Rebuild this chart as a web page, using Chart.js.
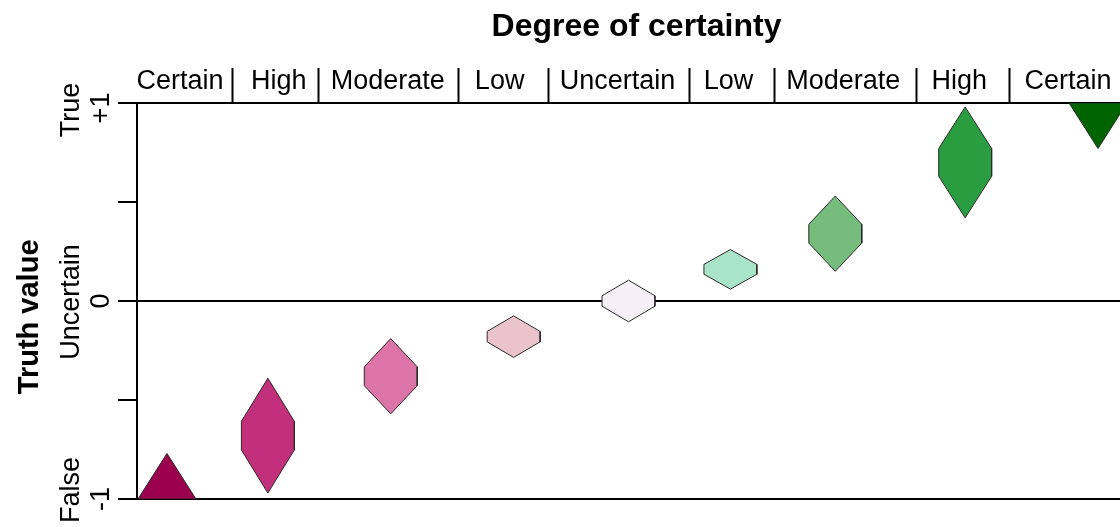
<!DOCTYPE html>
<html>
<head>
<meta charset="utf-8">
<script src="https://cdn.jsdelivr.net/npm/chart.js@4/dist/chart.umd.min.js"></script>
<style>
html,body{margin:0;padding:0;background:#fff;overflow:hidden;width:1120px;height:527px;}
canvas{display:block;}
</style>
</head>
<body>
<canvas id="c" width="1136" height="527"></canvas>
<script>
// ---- data ----
const categories = ['Certain','High','Moderate','Low','Uncertain','Low','Moderate','High','Certain'];
const categoryCentres = [0.43,1.42,2.51,3.63,4.81,5.92,7.07,8.23,9.32];
const categoryBreaks = [0.96,1.82,3.22,4.12,5.53,6.38,7.80,8.73];
const markDegree = [0.30,1.31,2.54,3.77,4.92,5.94,6.99,8.29,9.62];
const truthValue = [-1,-0.68,-0.38,-0.18,0,0.16,0.34,0.70,1];
const truthSpread = [0.23,0.29,0.19,0.105,0.105,0.10,0.19,0.28,0.23];
const markShape = ['triangle','hexagon','hexagon','hexagon','hexagon','hexagon','hexagon','hexagon','triangle'];
const markColours = ['#9A004E','#C2307B','#DC74A8','#EBC4CB','#F5F0F5','#A9E4C8','#76BD7D','#2A9D40','#006400'];
const yTickValues = [-1,-0.5,0,0.5,1];
const yTickWords = {'1':'True','0':'Uncertain','-1':'False'};
const yTickNumbers = {'1':'+1','0':'0','-1':'-1'};

const HEX_W = 0.265, TRI_W = 0.29;

function outline(i){
  const x = markDegree[i], y = truthValue[i], h = truthSpread[i];
  if (markShape[i] === 'triangle') {
    const dir = y < 0 ? 1 : -1;
    return [{x:x-TRI_W,y:y},{x:x+TRI_W,y:y},{x:x,y:y+dir*h},{x:x-TRI_W,y:y}];
  }
  const q = h/4;
  return [{x:x,y:y+h},{x:x+HEX_W,y:y+q},{x:x+HEX_W,y:y-q},{x:x,y:y-h},
          {x:x-HEX_W,y:y-q},{x:x-HEX_W,y:y+q},{x:x,y:y+h}];
}

const datasets = markDegree.map((_, i) => ({
  data: outline(i),
  backgroundColor: markColours[i],
  borderColor: '#2a2a2a',
  borderWidth: 1,
  pointRadius: 0,
  tension: 0,
  fill: 'shape',
  borderJoinStyle: 'miter'
}));

const FONT = '"Liberation Sans", Arial, sans-serif';
// small pixel nudges of the side labels (style only)
const wordNudge = {'1': 7, '0': 1, '-1': -9};
const numberNudge = {'1': 5, '0': 0, '-1': 0};

const sideLabels = {
  id: 'sideLabels',
  afterDraw(chart){
    const ctx = chart.ctx, ys = chart.scales.y;
    ctx.save();
    ctx.fillStyle = '#000';
    ctx.textAlign = 'center';
    ctx.textBaseline = 'middle';
    ctx.font = '27px ' + FONT;
    Object.keys(yTickWords).forEach(k => {
      const py = ys.getPixelForValue(Number(k));
      ctx.save(); ctx.translate(72, py + wordNudge[k]); ctx.rotate(-Math.PI/2);
      ctx.fillText(yTickWords[k], 0, 0); ctx.restore();
      ctx.save(); ctx.translate(102, py + numberNudge[k]); ctx.rotate(-Math.PI/2);
      ctx.fillText(yTickNumbers[k], 0, 0); ctx.restore();
    });
    ctx.font = 'bold 29px ' + FONT;
    ctx.save(); ctx.translate(30, ys.getPixelForValue(-0.08)); ctx.rotate(-Math.PI/2);
    ctx.fillText('Truth value', 0, 0); ctx.restore();
    ctx.restore();
  }
};

function nearIn(arr, v){ return arr.findIndex(a => Math.abs(a - v) < 1e-6); }

new Chart(document.getElementById('c'), {
  type: 'line',
  data: { datasets },
  plugins: [sideLabels],
  options: {
    responsive: false,
    animation: false,
    events: [],
    layout: { padding: { left: 0, right: 0, top: 0, bottom: 28 } },
    plugins: { legend: { display: false }, tooltip: { enabled: false }, title: { display: false } },
    scales: {
      x: { type: 'linear', min: 0, max: 10, display: false },
      x2: {
        type: 'linear', position: 'top', min: 0, max: 10,
        afterBuildTicks: s => { s.ticks = [...categoryBreaks, ...categoryCentres].sort((a,b)=>a-b).map(v => ({value: v})); },
        afterFit: s => { s.height = 103; },
        border: { display: false },
        grid: {
          drawOnChartArea: false, drawTicks: true, tickLength: 35, tickWidth: 2,
          tickColor: c => nearIn(categoryBreaks, c.tick.value) >= 0 ? '#000' : 'rgba(0,0,0,0)'
        },
        ticks: {
          autoSkip: false, minRotation: 0, maxRotation: 0, padding: -30,
          color: '#000', font: { family: FONT, size: 27 },
          callback: v => { const i = nearIn(categoryCentres, v); return i >= 0 ? categories[i] : ''; }
        },
        title: { display: true, text: 'Degree of certainty', color: '#000',
                 font: { family: FONT, size: 32, weight: 'bold' }, padding: { top: 8, bottom: 0 } }
      },
      y: {
        type: 'linear', min: -1, max: 1,
        afterBuildTicks: s => { s.ticks = yTickValues.map(v => ({value: v})); },
        afterFit: s => { s.width = 137; },
        border: { display: true, color: '#000', width: 2 },
        grid: {
          drawTicks: true, tickLength: 19, tickWidth: 2, tickColor: '#000', lineWidth: 2,
          color: c => (c.tick && (c.tick.value === 0 || Math.abs(c.tick.value) === 1)) ? '#000' : 'rgba(0,0,0,0)'
        },
        ticks: { display: false }
      }
    }
  }
});
</script>
</body>
</html>
